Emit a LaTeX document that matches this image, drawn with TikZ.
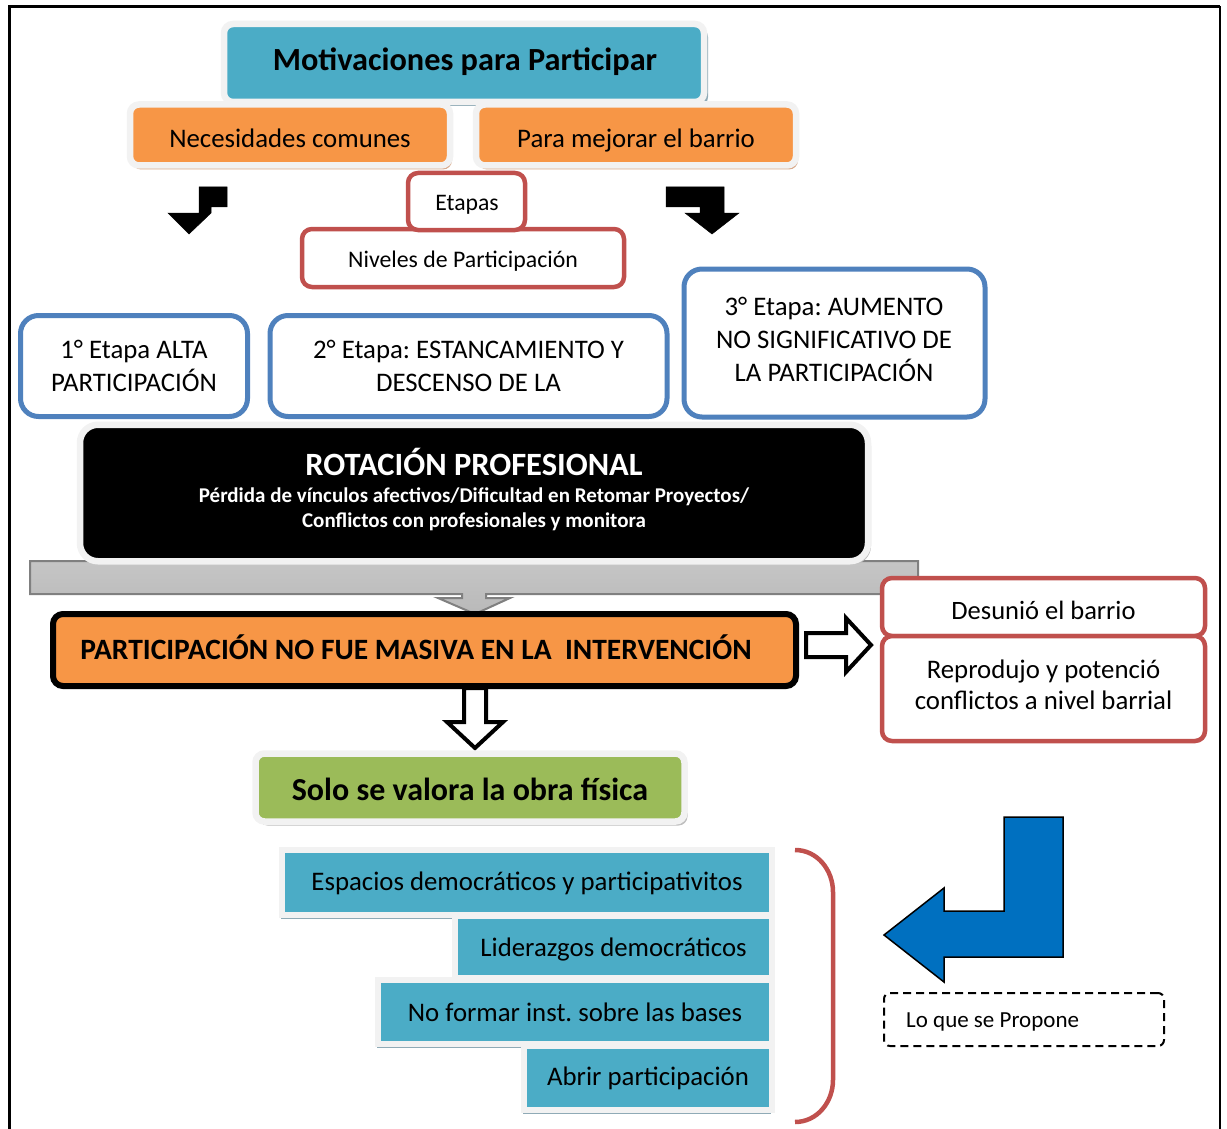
\documentclass[tikz,border=0pt]{standalone}
\usepackage{fontspec}
\setmainfont{Carlito}
\usetikzlibrary{shadows}
\definecolor{mteal}{HTML}{4BACC6}
\definecolor{morange}{HTML}{F79646}
\definecolor{mred}{HTML}{C0504D}
\definecolor{mblue}{HTML}{4F81BD}
\definecolor{mgreen}{HTML}{9BBB59}
\definecolor{arrowblue}{HTML}{0070C0}
\definecolor{framegray}{HTML}{F2F2F2}
\definecolor{shadowblue}{HTML}{8FAAB6}
\definecolor{shadowbrown}{HTML}{D8A98A}
\definecolor{shadowgray}{HTML}{BFBFBF}
\frenchspacing
\begin{document}
\begin{tikzpicture}[x=1pt,y=-1pt,
  base/.style={inner sep=0pt, align=center, font=\fontsize{26.8}{33}\selectfont},
  bevel/.style={base, draw=framegray, line width=6.5pt, rounded corners=9pt},
  redbox/.style={base, draw=mred, line width=4.5pt, fill=white, rounded corners=10pt},
  bluebox/.style={base, draw=mblue, line width=5pt, fill=white, rounded corners=18pt},
  listbox/.style={base, draw=framegray, line width=6pt, fill=mteal, font=\fontsize{26.8}{30}\selectfont,
    drop shadow={shadow xshift=-1pt, shadow yshift=-4pt, fill=shadowblue, opacity=1}},
  blockarrow/.style={fill=black, draw=black, line width=0.5pt},
  hollowarrow/.style={fill=white, draw=black, line width=4pt, line join=miter},
]
\useasboundingbox (0,0) rectangle (1227,1129);
% outer frame
\draw[line width=3pt] (9.5,1129) -- (9.5,6.5) -- (1220,6.5);
\draw[line width=2pt] (1220,6.5) -- (1220,1129);

% top
\node[bevel, fill=mteal, minimum width=480pt, minimum height=78pt,
  drop shadow={shadow xshift=4pt, shadow yshift=-4pt, fill=shadowblue, opacity=1}] (motiv) at (464,63) {};
\node[base, font=\fontsize{32.3}{36}\selectfont\bfseries] (motivt) at (465,62) {Motivaciones para Participar};

\node[bevel, fill=morange, minimum width=320pt, minimum height=61pt,
  drop shadow={shadow xshift=2pt, shadow yshift=-4pt, fill=shadowbrown, opacity=1}] (nec) at (290,135) {};
\node[base] (nect) at (290,138) {Necesidades comunes};
\node[bevel, fill=morange, minimum width=320pt, minimum height=61pt,
  drop shadow={shadow xshift=2pt, shadow yshift=-4pt, fill=shadowbrown, opacity=1}] (mej) at (636,135) {};
\node[base] (mejt) at (636,140) {Para mejorar el barrio};

% black bent arrows
\fill[blockarrow] (199,187) -- (227,187) -- (227,207) -- (211,207) -- (211,213)
  -- (189,234) -- (168,213) -- (199,213) -- cycle;
\fill[blockarrow] (666,187) -- (724,187) -- (724,213) -- (739,213) -- (712,234)
  -- (685,213) -- (700,213) -- (700,207) -- (666,207) -- cycle;

\node[redbox, minimum width=322pt, minimum height=58pt] (niv) at (463,258) {};
\node[base, font=\fontsize{23.8}{30}\selectfont] (nivt) at (463,261) {Niveles de Participación};
\node[redbox, minimum width=117pt, minimum height=57pt] (eta) at (466.5,201.5) {};
\node[base, font=\fontsize{23.7}{30}\selectfont] (etat) at (467,205) {Etapas};

% stages
\node[bluebox, minimum width=227pt, minimum height=101pt] (e1) at (134,366) {1° Etapa ALTA\\PARTICIPACIÓN};
\node[bluebox, minimum width=397pt, minimum height=101pt] (e2) at (468.5,366) {2° Etapa: ESTANCAMIENTO Y\\DESCENSO DE LA};
\node[bluebox, minimum width=301pt, minimum height=148pt] (e3) at (834.5,343) {};
\node[base] (e3t) at (834,339) {3° Etapa: AUMENTO\\NO SIGNIFICATIVO DE\\LA PARTICIPACIÓN};

% grey arrow bar
\shade[top color=gray!45, middle color=gray!28, bottom color=gray!55, draw=black!50, line width=2pt]
  (30,561) -- (918,561) -- (918,594) -- (486,594) -- (486,598) -- (510,598) -- (475,614)
  -- (438,598) -- (462,598) -- (462,594) -- (30,594) -- cycle;

% rotacion
\node[bevel, fill=black, minimum width=788pt, minimum height=136.5pt, rounded corners=18pt,
  drop shadow={shadow xshift=3pt, shadow yshift=-3pt, fill=shadowgray, opacity=1}] (rot) at (474,493) {};
\node[base, text=white, font=\fontsize{32.5}{34}\selectfont\bfseries] (rott) at (474,462) {ROTACIÓN PROFESIONAL};
\node[base, text=white, font=\fontsize{21}{25}\selectfont\bfseries] (rots) at (474,509)
  {Pérdida de vínculos afectivos/Dificultad en Retomar Proyectos/\\Conflictos con profesionales y monitora};

% participacion
\node[base, draw=black, line width=6pt, fill=morange, rounded corners=10pt,
  minimum width=743pt, minimum height=72pt] (part) at (424.5,650) {};
\node[base, font=\fontsize{29.5}{32}\selectfont\bfseries] (partt) at (416,647)
  {PARTICIPACIÓN NO FUE MASIVA EN LA~ INTERVENCIÓN};

% hollow arrows
\draw[hollowarrow] (806,633) -- (846,633) -- (846,618) -- (871,645) -- (846,672)
  -- (846,657) -- (806,657) -- cycle;
\draw[hollowarrow] (464,688) -- (486,688) -- (486,722) -- (503,722) -- (475,748)
  -- (447,722) -- (464,722) -- cycle;

% consequences
\node[redbox, minimum width=323pt, minimum height=58pt] (des) at (1043.5,607) {};
\node[base, font=\fontsize{26.5}{31}\selectfont] (dest) at (1043.5,610) {Desunió el barrio};
\node[redbox, minimum width=323pt, minimum height=105pt] (rep) at (1043.5,688.5) {};
\node[base, font=\fontsize{26.8}{31}\selectfont] (rept) at (1043.5,684.5) {Reprodujo y potenció\\conflictos a nivel barrial};

% solo
\node[bevel, fill=mgreen, minimum width=429pt, minimum height=68pt,
  drop shadow={shadow xshift=3pt, shadow yshift=-4pt, fill=shadowgray, opacity=1}] (solo) at (470,787.5) {};
\node[base, font=\fontsize{32}{36}\selectfont\bfseries] (solot) at (470,789) {Solo se valora la obra física};

% list
\node[listbox, minimum width=490pt, minimum height=65pt] (l1) at (527,882.5) {};
\node[base, font=\fontsize{26.8}{30}\selectfont] (l1t) at (527,883) {Espacios democráticos y participativitos};
\node[listbox, minimum width=317pt, minimum height=62pt] (l2) at (613.5,947) {};
\node[base, font=\fontsize{26.8}{30}\selectfont] (l2t) at (613.5,949) {Liderazgos democráticos};
\node[listbox, minimum width=394pt, minimum height=64pt] (l3) at (575,1012) {};
\node[base, font=\fontsize{26.8}{30}\selectfont] (l3t) at (575,1012) {No formar inst. sobre las bases};
\node[listbox, minimum width=248pt, minimum height=64pt] (l4) at (648,1078) {};
\node[base, font=\fontsize{26.8}{30}\selectfont] (l4t) at (648,1078) {Abrir participación};

% bracket
\draw[mred, line width=4.5pt] (795,850) to[out=0,in=90] (833,892) -- (833,1080) to[out=-90,in=0] (795,1122);

% blue bent arrow
\draw[fill=arrowblue, draw=black, line width=1.5pt, line join=miter]
  (1004,817) -- (1063,817) -- (1063,957) -- (944,957) -- (944,982) -- (884,935)
  -- (944,888) -- (944,911) -- (1004,911) -- cycle;

% proposal
\node[base, draw=black, dash pattern=on 8pt off 5pt, line width=2pt, rounded corners=6pt,
  minimum width=280pt, minimum height=53pt] (prop) at (1024,1019.5) {};
\node[base, anchor=west, font=\fontsize{23}{28}\selectfont] (propt) at (906,1022) {Lo que se Propone};
\end{tikzpicture}
\end{document}
